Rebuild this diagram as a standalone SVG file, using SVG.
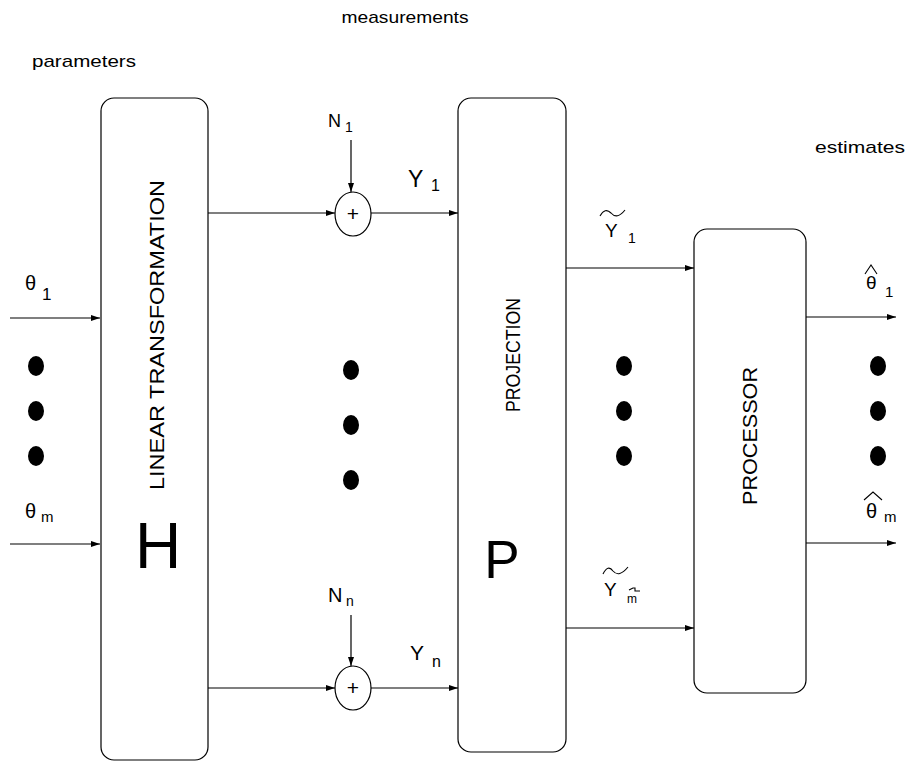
<svg xmlns="http://www.w3.org/2000/svg" width="909" height="761" viewBox="0 0 909 761">
<style>
text{font-family:"Liberation Sans",Arial,sans-serif;fill:#000}
.box{fill:#fff;stroke:#000;stroke-width:1.2}
.ln{stroke:#000;stroke-width:1.2;fill:none}
.acc{stroke:#000;stroke-width:1.1;fill:none}
.dot{fill:#000}
.lab{font-size:20px}
.sub{font-size:15px}
</style>
<defs>
<marker id="ah" markerWidth="10" markerHeight="8" refX="9" refY="4" orient="auto" markerUnits="userSpaceOnUse">
<path d="M0,1 L9,4 L0,7 Z" fill="#000"/>
</marker>
</defs>
<rect width="909" height="761" fill="#fff"/>

<text x="405" y="23" font-size="17" text-anchor="middle" textLength="127" lengthAdjust="spacingAndGlyphs">measurements</text>
<text x="32" y="67" font-size="17" textLength="104" lengthAdjust="spacingAndGlyphs">parameters</text>
<text x="815" y="153" font-size="17" textLength="90" lengthAdjust="spacingAndGlyphs">estimates</text>

<g id="connectors">
<line class="ln" x1="10" y1="318" x2="100" y2="318" marker-end="url(#ah)"/>
<line class="ln" x1="10" y1="544" x2="100" y2="544" marker-end="url(#ah)"/>
<line class="ln" x1="208" y1="213" x2="335" y2="213" marker-end="url(#ah)"/>
<line class="ln" x1="371" y1="213" x2="458" y2="213" marker-end="url(#ah)"/>
<line class="ln" x1="351" y1="140" x2="351" y2="192" marker-end="url(#ah)"/>
<line class="ln" x1="208" y1="688" x2="335" y2="688" marker-end="url(#ah)"/>
<line class="ln" x1="371" y1="688" x2="458" y2="688" marker-end="url(#ah)"/>
<line class="ln" x1="351" y1="615" x2="351" y2="666" marker-end="url(#ah)"/>
<line class="ln" x1="566" y1="268" x2="694" y2="268" marker-end="url(#ah)"/>
<line class="ln" x1="566" y1="628" x2="694" y2="628" marker-end="url(#ah)"/>
<line class="ln" x1="806" y1="317" x2="896" y2="317" marker-end="url(#ah)"/>
<line class="ln" x1="806" y1="543" x2="896" y2="543" marker-end="url(#ah)"/>
</g>

<g id="H">
<rect class="box" x="101" y="98" width="107" height="662" rx="13"/>
<text transform="translate(164,335) rotate(-90)" font-size="20" text-anchor="middle" textLength="310" lengthAdjust="spacingAndGlyphs">LINEAR TRANSFORMATION</text>
<text x="158" y="568" font-size="64" text-anchor="middle">H</text>
</g>

<g id="P">
<rect class="box" x="458" y="98" width="108" height="654" rx="13"/>
<text transform="translate(520,355) rotate(-90)" font-size="20" text-anchor="middle" textLength="114" lengthAdjust="spacingAndGlyphs">PROJECTION</text>
<text x="502" y="578" font-size="53" text-anchor="middle">P</text>
</g>

<g id="processor">
<rect class="box" x="694" y="229" width="112" height="464" rx="13"/>
<text transform="translate(757,436) rotate(-90)" font-size="20" text-anchor="middle" textLength="138" lengthAdjust="spacingAndGlyphs">PROCESSOR</text>
</g>

<g id="sum1">
<ellipse class="box" cx="353" cy="214" rx="18" ry="22"/>
<text x="353" y="221" font-size="21" text-anchor="middle">+</text>
</g>
<g id="sumn">
<ellipse class="box" cx="353" cy="688" rx="18" ry="22"/>
<text x="353" y="695" font-size="21" text-anchor="middle">+</text>
</g>

<g id="labels">
<text x="25" y="290" class="lab">θ</text><text x="42" y="300" font-size="17">1</text>
<text x="25" y="518" class="lab">θ</text><text x="41" y="522" class="sub">m</text>
<text x="328" y="127" font-size="18">N</text><text x="345" y="132" font-size="14">1</text>
<text x="328" y="602" font-size="20">N</text><text x="346" y="606" font-size="14">n</text>
<text x="408" y="187" font-size="23">Y</text><text x="431" y="191" font-size="16">1</text>
<text x="410" y="660" font-size="21">Y</text><text x="432" y="667" font-size="16">n</text>
<path class="acc" d="M600,216 Q605,207 611,213 Q617,220 625,210"/>
<text x="605" y="237" font-size="19">Y</text><text x="628" y="243" font-size="14">1</text>
<path class="acc" d="M603,574 Q608,564 613,571 Q619,578 628,567"/>
<text x="604" y="596" font-size="19">Y</text><text x="627" y="603" font-size="12">m</text>
<path class="acc" d="M629,590 L633,588 L635,588 L635,591 L640,591"/>
<path class="acc" d="M865,274 L871,265 L877,274"/>
<text x="866" y="289" font-size="19">θ</text><text x="885" y="297" class="sub">1</text>
<path class="acc" d="M864,500 L873,492 L882,500"/>
<text x="866" y="518" class="lab">θ</text><text x="884" y="522" class="sub">m</text>
</g>

<g id="dots">
<ellipse class="dot" cx="36" cy="366" rx="8" ry="10"/>
<ellipse class="dot" cx="36" cy="411" rx="8" ry="10"/>
<ellipse class="dot" cx="36" cy="456" rx="8" ry="10"/>
<ellipse class="dot" cx="351" cy="370" rx="8" ry="10"/>
<ellipse class="dot" cx="351" cy="425" rx="8" ry="10"/>
<ellipse class="dot" cx="351" cy="480" rx="8" ry="10"/>
<ellipse class="dot" cx="624" cy="366" rx="8" ry="10"/>
<ellipse class="dot" cx="624" cy="411" rx="8" ry="10"/>
<ellipse class="dot" cx="624" cy="456" rx="8" ry="10"/>
<ellipse class="dot" cx="878" cy="366" rx="8" ry="10"/>
<ellipse class="dot" cx="878" cy="411" rx="8" ry="10"/>
<ellipse class="dot" cx="878" cy="456" rx="8" ry="10"/>
</g>
</svg>
